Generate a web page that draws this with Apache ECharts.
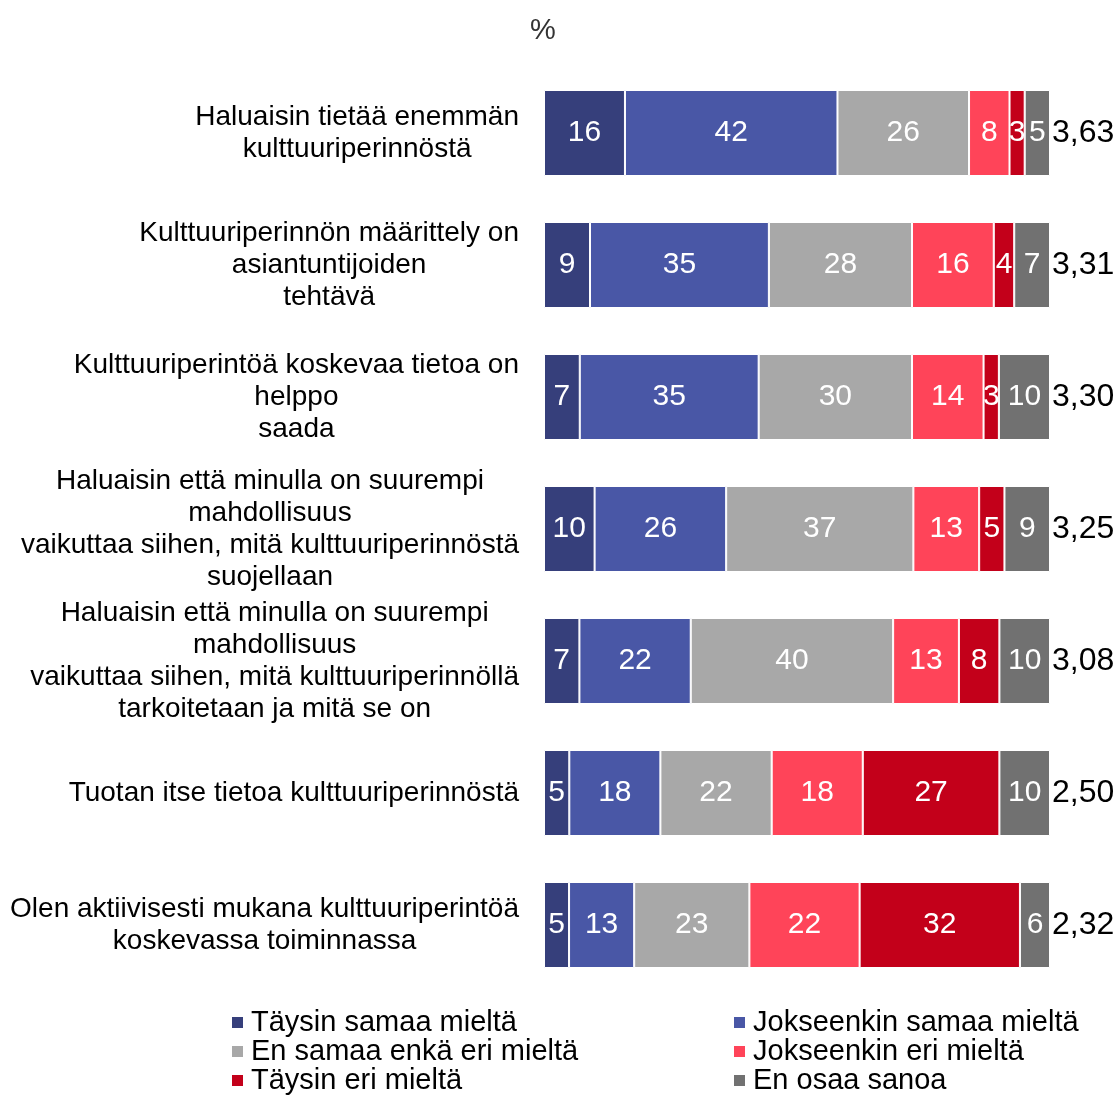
<!DOCTYPE html>
<html>
<head>
<meta charset="utf-8">
<script src="https://cdn.jsdelivr.net/npm/echarts@6/dist/echarts.min.js"></script>
<style>
  html, body { margin: 0; padding: 0; background: #fff; }
  #main { width: 1118px; height: 1095px; }
</style>
</head>
<body>
<div id="main"></div>
<script>
// kysymykset (ylhäältä alas)
var categories = [
    'Haluaisin tietää enemmän\nkulttuuriperinnöstä',
    'Kulttuuriperinnön määrittely on\nasiantuntijoiden\ntehtävä',
    'Kulttuuriperintöä koskevaa tietoa on\nhelppo\nsaada',
    'Haluaisin että minulla on suurempi\nmahdollisuus\nvaikuttaa siihen, mitä kulttuuriperinnöstä\nsuojellaan',
    'Haluaisin että minulla on suurempi\nmahdollisuus\nvaikuttaa siihen, mitä kulttuuriperinnöllä\ntarkoitetaan ja mitä se on',
    'Tuotan itse tietoa kulttuuriperinnöstä',
    'Olen aktiivisesti mukana kulttuuriperintöä\nkoskevassa toiminnassa'
];
var means = ['3,63', '3,31', '3,30', '3,25', '3,08', '2,50', '2,32'];

var seriesNames = ['Täysin samaa mieltä', 'Jokseenkin samaa mieltä', 'En samaa enkä eri mieltä',
    'Jokseenkin eri mieltä', 'Täysin eri mieltä', 'En osaa sanoa'];
var colors = ['#363F7B', '#4957A6', '#A8A8A8', '#FF4459', '#C3001A', '#717171'];

var taysinSamaa = [16, 9, 7, 10, 7, 5, 5];
var jokseenkinSamaa = [42, 35, 35, 26, 22, 18, 13];
var enSamaaEnkaEri = [26, 28, 30, 37, 40, 22, 23];
var jokseenkinEri = [8, 16, 14, 13, 13, 18, 22];
var taysinEri = [3, 4, 3, 5, 8, 27, 32];
var enOsaa = [5, 7, 10, 9, 10, 10, 6];

var values = [taysinSamaa, jokseenkinSamaa, enSamaaEnkaEri, jokseenkinEri, taysinEri, enOsaa];

// 100 % pinottu: rivisummat
var rowSums = categories.map(function (c, i) {
    var s = 0;
    values.forEach(function (arr) { s += arr[i]; });
    return s;
});

var FONT = '"Liberation Sans", Arial, sans-serif';

var series = values.map(function (arr, k) {
    return {
        name: seriesNames[k],
        type: 'bar',
        stack: 'total',
        barWidth: 86,
        itemStyle: { color: colors[k], borderColor: '#fff', borderWidth: 1 },
        label: {
            show: true,
            position: 'inside',
            color: '#fff',
            fontSize: 30,
            fontFamily: FONT,
            formatter: function (p) { return arr[p.dataIndex]; }
        },
        data: arr.map(function (v, i) { return v / rowSums[i] * 100; })
    };
});

var legendText = { fontSize: 29, lineHeight: 29, color: '#000', fontFamily: FONT, padding: [0, 0, 0, 2] };

var chart = echarts.init(document.getElementById('main'));

var option = {
    backgroundColor: '#fff',
    animation: false,
    title: {
        text: '%',
        left: 543,
        top: 16,
        padding: 0,
        textAlign: 'center',
        textStyle: { fontSize: 29, fontWeight: 'normal', color: '#333', fontFamily: FONT }
    },
    grid: { left: 544, right: 68, top: 67, bottom: 104 },
    xAxis: { type: 'value', min: 0, max: 100, show: false },
    yAxis: [{
        type: 'category',
        inverse: true,
        data: categories,
        axisLine: { show: false },
        axisTick: { show: false },
        axisLabel: {
            interval: 0,
            margin: 25,
            align: 'right',
            formatter: function (v) {
                return v.split('\n').map(function (l) { return '{c|' + l + '}'; }).join('\n');
            },
            rich: {
                c: { align: 'center', fontSize: 28, lineHeight: 32, color: '#000', fontFamily: FONT }
            }
        }
    }, {
        type: 'category',
        inverse: true,
        position: 'right',
        data: means,
        axisLine: { show: false },
        axisTick: { show: false },
        axisLabel: { margin: 2, fontSize: 32, color: '#000', fontFamily: FONT }
    }],
    legend: [{
        orient: 'vertical',
        left: 230,
        top: 1008,
        padding: 0,
        icon: 'rect',
        itemWidth: 13,
        itemHeight: 13,
        itemGap: 0,
        selectedMode: false,
        data: [seriesNames[0], seriesNames[2], seriesNames[4]],
        textStyle: legendText
    }, {
        orient: 'vertical',
        left: 732,
        top: 1008,
        padding: 0,
        icon: 'rect',
        itemWidth: 13,
        itemHeight: 13,
        itemGap: 0,
        selectedMode: false,
        data: [seriesNames[1], seriesNames[3], seriesNames[5]],
        textStyle: legendText
    }],
    series: series
};

chart.setOption(option);
</script>
</body>
</html>
